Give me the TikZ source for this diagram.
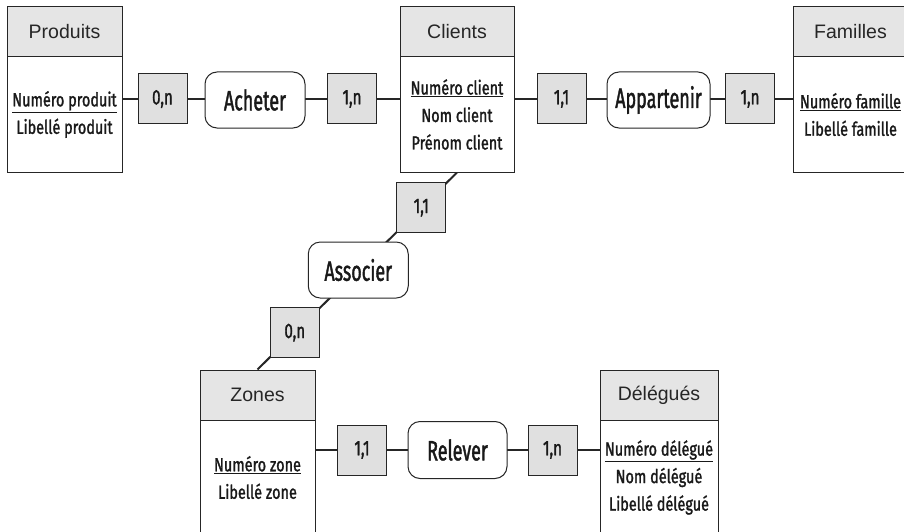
\documentclass[tikz,border=0pt]{standalone}
\usepackage{fontspec}
\setmainfont{Fira Sans}
\newfontfamily\hdf{Liberation Sans}
\newfontfamily\bdf[FakeStretch=0.76,FakeBold=1.4]{Fira Sans}
\newfontfamily\rdf[FakeStretch=0.64,FakeBold=1.4]{Fira Sans}
\newfontfamily\cdf[FakeStretch=0.72,FakeBold=1.4]{Fira Sans}
\usetikzlibrary{calc,backgrounds}
\begin{document}
\begin{tikzpicture}[x=1pt,y=-1pt,
  hdr/.style={draw=black!85,line width=1pt,fill=black!10,minimum width=#1,minimum height=50pt,inner sep=0pt,font=\hdf\fontsize{19.5}{22}\selectfont,text=black!85},
  bod/.style={draw=black!85,line width=1pt,fill=white,minimum width=#1,minimum height=115pt,inner sep=0pt,align=center,font=\bdf\fontsize{19}{27.5}\selectfont,text=black!90},
  card/.style={draw=black!85,line width=1pt,fill=black!12,minimum width=49pt,minimum height=50pt,inner sep=0pt,font=\cdf\fontsize{21}{24}\selectfont,text=black!90},
  rel/.style={draw=black!85,line width=1pt,fill=white,rounded corners=12pt,minimum width=#1,minimum height=56pt,inner sep=0pt,font=\rdf\fontsize{28}{30}\selectfont,text=black!90},
  lnk/.style={draw=black!85,line width=2pt}]
\useasboundingbox (0,0) rectangle (904,532);
% entities
\node[hdr=115pt] (ph) at (64.5,32) {Produits};
\node[bod=115pt] (pb) at (64.5,114.5) {\underline{Numéro produit}\\Libellé produit};
\node[hdr=114pt] (chd) at (457,32) {Clients};
\node[bod=114pt] (cb) at (457,114.5) {\underline{Numéro client}\\Nom client\\Prénom client};
\node[hdr=115pt] (fh) at (850.5,32) {Familles};
\node[bod=115pt] (fb) at (850.5,114.5) {\underline{Numéro famille}\\Libellé famille};
\node[hdr=115pt] (zh) at (257.5,395) {Zones};
\node[bod=115pt] (zb) at (257.5,477.5) {\underline{Numéro zone}\\Libellé zone};
\node[hdr=118pt] (dh) at (659,395) {Délégués};
\node[bod=118pt] (db) at (659,477.5) {\underline{Numéro délégué}\\Nom délégué\\Libellé délégué};
% top row
\node[card] (c1) at (162.5,99) {0,n};
\node[rel=100pt] (ach) at (255,100) {Acheter};
\node[card] (c2) at (352,99) {1,n};
\node[card] (c3) at (561.5,99) {1,1};
\node[rel=103pt] (app) at (658.5,100) {Appartenir};
\node[card] (c4) at (750,99) {1,n};
% diagonal
\node[card] (c5) at ($(cb.south)!0.179!(zh.north)$) {1,1};
\node[rel=100pt] (ass) at ($(cb.south)!0.495!(zh.north)$) {Associer};
\node[card] (c6) at ($(cb.south)!0.813!(zh.north)$) {0,n};
% bottom row
\node[card] (c7) at (362,450) {1,1};
\node[rel=99pt,minimum height=57pt] (rlv) at (457.5,450) {Relever};
\node[card] (c8) at (552.5,450) {1,n};
\begin{scope}[on background layer]
\draw[lnk] (pb.east |- c1) -- (c1) -- (c2) -- (cb.west |- c2);
\draw[lnk] (cb.east |- c3) -- (c3) -- (c4) -- (fb.west |- c4);
\draw[lnk] (cb.south) -- (zh.north);
\draw[lnk] (zb.east |- c7) -- (c7) -- (c8) -- (db.west |- c8);
\end{scope}
\end{tikzpicture}
\end{document}
